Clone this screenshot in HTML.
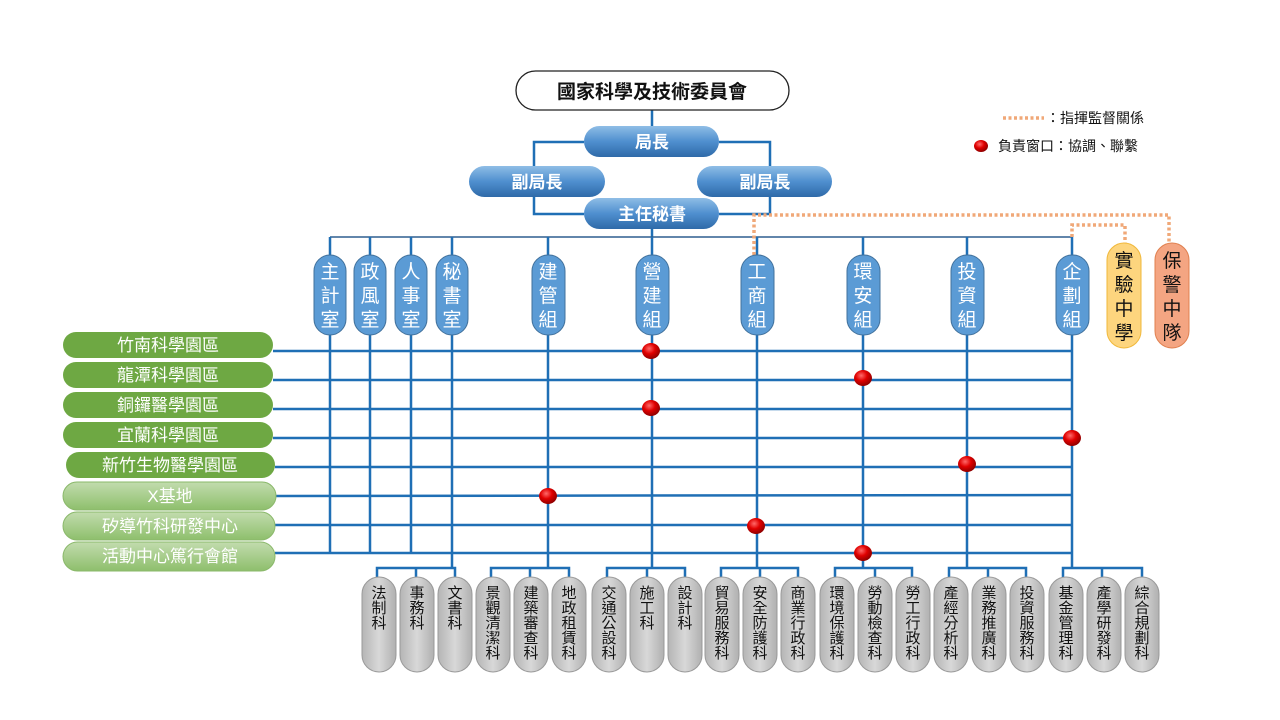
<!DOCTYPE html>
<html><head><meta charset="utf-8"><style>
html,body{margin:0;padding:0;background:#fff;width:1280px;height:720px;overflow:hidden}
svg text{font-family:"Liberation Sans","Noto Sans CJK TC",sans-serif}
</style></head><body>
<svg width="1280" height="720" viewBox="0 0 1280 720" xmlns="http://www.w3.org/2000/svg">
<defs>
<linearGradient id="bg" x1="0" y1="0" x2="0" y2="1"><stop offset="0" stop-color="#8fbde6"/><stop offset="0.5" stop-color="#4f8fcf"/><stop offset="1" stop-color="#2f6aa8"/></linearGradient>
<linearGradient id="gg" x1="0" y1="0" x2="0" y2="1"><stop offset="0" stop-color="#c2dcae"/><stop offset="1" stop-color="#8ebf6c"/></linearGradient>
<linearGradient id="gray" x1="0" y1="0" x2="1" y2="0"><stop offset="0" stop-color="#b5b5b5"/><stop offset="0.5" stop-color="#d8d8d8"/><stop offset="1" stop-color="#b0b0b0"/></linearGradient>
<radialGradient id="rd" cx="0.4" cy="0.35" r="0.65"><stop offset="0" stop-color="#ff6a6a"/><stop offset="0.5" stop-color="#e00000"/><stop offset="1" stop-color="#900000"/></radialGradient>
</defs>

<g stroke="#1f6fb5" stroke-width="2.5" fill="none">
<line x1="652" y1="110" x2="652" y2="130"/>
<polyline points="584,142 534,142 534,214 584,214"/>
<polyline points="719,142 770,142 770,214 719,214"/>
<line x1="652" y1="229" x2="652" y2="237"/>
</g>
<line x1="330" y1="237" x2="1072" y2="237" stroke="#2e5f8f" stroke-width="1.5"/>

<g stroke="#1f6fb5" stroke-width="2.5">
<line x1="330" y1="237" x2="330" y2="553"/>
<line x1="370" y1="237" x2="370" y2="553"/>
<line x1="411" y1="237" x2="411" y2="553"/>
<line x1="452" y1="237" x2="452" y2="569"/>
<line x1="548" y1="237" x2="548" y2="569"/>
<line x1="652" y1="237" x2="652" y2="569"/>
<line x1="757" y1="237" x2="757" y2="569"/>
<line x1="863" y1="237" x2="863" y2="569"/>
<line x1="967" y1="237" x2="967" y2="569"/>
<line x1="1072" y1="237" x2="1072" y2="569"/>
<line x1="273" y1="351" x2="1072" y2="351"/>
<line x1="273" y1="380" x2="1072" y2="380"/>
<line x1="273" y1="409" x2="1072" y2="409"/>
<line x1="273" y1="438" x2="1072" y2="438"/>
<line x1="275" y1="467" x2="1072" y2="467"/>
<line x1="276" y1="496" x2="1072" y2="495"/>
<line x1="275" y1="525" x2="1072" y2="525"/>
<line x1="275" y1="553" x2="1072" y2="553"/>
<g fill="none">
<polyline points="377,577 377,568 455,568 455,577"/><line x1="416" y1="568" x2="416" y2="577"/>
<polyline points="491,577 491,568 569,568 569,577"/><line x1="530" y1="568" x2="530" y2="577"/>
<polyline points="607,577 607,568 685,568 685,577"/><line x1="647" y1="568" x2="647" y2="577"/>
<polyline points="721,577 721,568 798,568 798,577"/><line x1="760" y1="568" x2="760" y2="577"/>
<polyline points="835,577 835,568 912,568 912,577"/><line x1="875" y1="568" x2="875" y2="577"/>
<polyline points="949,577 949,568 1026,568 1026,577"/><line x1="988" y1="568" x2="988" y2="577"/>
<polyline points="1063,577 1063,568 1142,568 1142,577"/><line x1="1102" y1="568" x2="1102" y2="577"/>
</g>
</g>

<g stroke="#f0a878" stroke-width="3.5" stroke-dasharray="3,2.5" fill="none">
<polyline points="754,255 754,215 1169,215 1169,243"/>
<polyline points="1072,237 1072,225 1125,225 1125,243"/>
<line x1="1003" y1="118" x2="1044" y2="118"/>
</g>

<rect x="516" y="71" width="273" height="39" rx="19.5" fill="#fff" stroke="#222" stroke-width="1.3"/>
<text x="652" y="98" font-size="19" font-weight="bold" fill="#111" text-anchor="middle">國家科學及技術委員會</text>

<g font-size="17" font-weight="bold" fill="#fff" text-anchor="middle">
<rect x="584" y="126" width="135" height="31" rx="15.5" fill="url(#bg)"/><text x="652" y="148">局長</text>
<rect x="469" y="166" width="136" height="31" rx="15.5" fill="url(#bg)"/><text x="537" y="188">副局長</text>
<rect x="697" y="166" width="135" height="31" rx="15.5" fill="url(#bg)"/><text x="765" y="188">副局長</text>
<rect x="584" y="198" width="135" height="31" rx="15.5" fill="url(#bg)"/><text x="652" y="220">主任秘書</text>
</g>

<g font-size="19" fill="#fff" text-anchor="middle">
<g><rect x="314" y="255" width="32" height="80" rx="16" fill="#5b9bd5" stroke="#41719c"/><text x="330" y="278">主</text><text x="330" y="302">計</text><text x="330" y="326">室</text></g>
<g><rect x="354" y="255" width="32" height="80" rx="16" fill="#5b9bd5" stroke="#41719c"/><text x="370" y="278">政</text><text x="370" y="302">風</text><text x="370" y="326">室</text></g>
<g><rect x="395" y="255" width="32" height="80" rx="16" fill="#5b9bd5" stroke="#41719c"/><text x="411" y="278">人</text><text x="411" y="302">事</text><text x="411" y="326">室</text></g>
<g><rect x="436" y="255" width="32" height="80" rx="16" fill="#5b9bd5" stroke="#41719c"/><text x="452" y="278">秘</text><text x="452" y="302">書</text><text x="452" y="326">室</text></g>
<g><rect x="532" y="255" width="33" height="80" rx="16" fill="#5b9bd5" stroke="#41719c"/><text x="548" y="278">建</text><text x="548" y="302">管</text><text x="548" y="326">組</text></g>
<g><rect x="636" y="255" width="33" height="80" rx="16" fill="#5b9bd5" stroke="#41719c"/><text x="652" y="278">營</text><text x="652" y="302">建</text><text x="652" y="326">組</text></g>
<g><rect x="741" y="255" width="33" height="80" rx="16" fill="#5b9bd5" stroke="#41719c"/><text x="757" y="278">工</text><text x="757" y="302">商</text><text x="757" y="326">組</text></g>
<g><rect x="847" y="255" width="33" height="80" rx="16" fill="#5b9bd5" stroke="#41719c"/><text x="863" y="278">環</text><text x="863" y="302">安</text><text x="863" y="326">組</text></g>
<g><rect x="951" y="255" width="33" height="80" rx="16" fill="#5b9bd5" stroke="#41719c"/><text x="967" y="278">投</text><text x="967" y="302">資</text><text x="967" y="326">組</text></g>
<g><rect x="1056" y="255" width="33" height="80" rx="16" fill="#5b9bd5" stroke="#41719c"/><text x="1072" y="278">企</text><text x="1072" y="302">劃</text><text x="1072" y="326">組</text></g>
</g>
<g font-size="19" fill="#111" text-anchor="middle">
<rect x="1107" y="243" width="34" height="105" rx="17" fill="#fdd57e" stroke="#f0b83a"/><text x="1124" y="267">實</text><text x="1124" y="291">驗</text><text x="1124" y="315">中</text><text x="1124" y="339">學</text>
<rect x="1155" y="243" width="34" height="105" rx="17" fill="#f4a582" stroke="#e0804f"/><text x="1172" y="267">保</text><text x="1172" y="291">警</text><text x="1172" y="315">中</text><text x="1172" y="339">隊</text>
</g>

<g font-size="17" fill="#fff" text-anchor="middle">
<rect x="63" y="332" width="210" height="26" rx="13" fill="#6ea843"/><text x="168" y="351">竹南科學園區</text>
<rect x="63" y="362" width="210" height="26" rx="13" fill="#6ea843"/><text x="168" y="381">龍潭科學園區</text>
<rect x="63" y="392" width="210" height="26" rx="13" fill="#6ea843"/><text x="168" y="411">銅鑼醫學園區</text>
<rect x="63" y="422" width="210" height="26" rx="13" fill="#6ea843"/><text x="168" y="441">宜蘭科學園區</text>
<rect x="66" y="452" width="209" height="26" rx="13" fill="#6ea843"/><text x="170" y="471">新竹生物醫學園區</text>
<rect x="63" y="482" width="213" height="28" rx="14" fill="url(#gg)" stroke="#8ab86a"/><text x="170" y="502">X基地</text>
<rect x="63" y="512" width="212" height="28" rx="14" fill="url(#gg)" stroke="#8ab86a"/><text x="170" y="532">矽導竹科研發中心</text>
<rect x="63" y="542" width="212" height="29" rx="14.5" fill="url(#gg)" stroke="#8ab86a"/><text x="170" y="562">活動中心篤行會館</text>
</g>

<g fill="url(#rd)">
<ellipse cx="651" cy="351" rx="9" ry="8"/>
<ellipse cx="863" cy="378" rx="9" ry="8"/>
<ellipse cx="651" cy="408" rx="9" ry="8"/>
<ellipse cx="1072" cy="438" rx="9" ry="8"/>
<ellipse cx="967" cy="464" rx="9" ry="8"/>
<ellipse cx="548" cy="496" rx="9" ry="8"/>
<ellipse cx="756" cy="526" rx="9" ry="8"/>
<ellipse cx="863" cy="553" rx="9" ry="8"/>
<ellipse cx="981" cy="146" rx="7" ry="6"/>
</g>

<text x="1046" y="123" font-size="14" fill="#111">：指揮監督關係</text>
<text x="998" y="151" font-size="14" fill="#111">負責窗口：協調、聯繫</text>

<g font-size="15" fill="#111" text-anchor="middle">
<rect x="362" y="577" width="34" height="95" rx="17" fill="url(#gray)" stroke="#999"/>
<rect x="400" y="577" width="34" height="95" rx="17" fill="url(#gray)" stroke="#999"/>
<rect x="438" y="577" width="34" height="95" rx="17" fill="url(#gray)" stroke="#999"/>
<rect x="476" y="577" width="34" height="95" rx="17" fill="url(#gray)" stroke="#999"/>
<rect x="514" y="577" width="34" height="95" rx="17" fill="url(#gray)" stroke="#999"/>
<rect x="552" y="577" width="34" height="95" rx="17" fill="url(#gray)" stroke="#999"/>
<rect x="592" y="577" width="34" height="95" rx="17" fill="url(#gray)" stroke="#999"/>
<rect x="630" y="577" width="34" height="95" rx="17" fill="url(#gray)" stroke="#999"/>
<rect x="668" y="577" width="34" height="95" rx="17" fill="url(#gray)" stroke="#999"/>
<rect x="705" y="577" width="34" height="95" rx="17" fill="url(#gray)" stroke="#999"/>
<rect x="743" y="577" width="34" height="95" rx="17" fill="url(#gray)" stroke="#999"/>
<rect x="781" y="577" width="34" height="95" rx="17" fill="url(#gray)" stroke="#999"/>
<rect x="820" y="577" width="34" height="95" rx="17" fill="url(#gray)" stroke="#999"/>
<rect x="858" y="577" width="34" height="95" rx="17" fill="url(#gray)" stroke="#999"/>
<rect x="896" y="577" width="34" height="95" rx="17" fill="url(#gray)" stroke="#999"/>
<rect x="934" y="577" width="34" height="95" rx="17" fill="url(#gray)" stroke="#999"/>
<rect x="972" y="577" width="34" height="95" rx="17" fill="url(#gray)" stroke="#999"/>
<rect x="1010" y="577" width="34" height="95" rx="17" fill="url(#gray)" stroke="#999"/>
<rect x="1049" y="577" width="34" height="95" rx="17" fill="url(#gray)" stroke="#999"/>
<rect x="1087" y="577" width="34" height="95" rx="17" fill="url(#gray)" stroke="#999"/>
<rect x="1125" y="577" width="34" height="95" rx="17" fill="url(#gray)" stroke="#999"/>
<text x="379" y="598">法</text><text x="379" y="613">制</text><text x="379" y="628">科</text>
<text x="417" y="598">事</text><text x="417" y="613">務</text><text x="417" y="628">科</text>
<text x="455" y="598">文</text><text x="455" y="613">書</text><text x="455" y="628">科</text>
<text x="493" y="598">景</text><text x="493" y="613">觀</text><text x="493" y="628">清</text><text x="493" y="643">潔</text><text x="493" y="658">科</text>
<text x="531" y="598">建</text><text x="531" y="613">築</text><text x="531" y="628">審</text><text x="531" y="643">查</text><text x="531" y="658">科</text>
<text x="569" y="598">地</text><text x="569" y="613">政</text><text x="569" y="628">租</text><text x="569" y="643">賃</text><text x="569" y="658">科</text>
<text x="609" y="598">交</text><text x="609" y="613">通</text><text x="609" y="628">公</text><text x="609" y="643">設</text><text x="609" y="658">科</text>
<text x="647" y="598">施</text><text x="647" y="613">工</text><text x="647" y="628">科</text>
<text x="685" y="598">設</text><text x="685" y="613">計</text><text x="685" y="628">科</text>
<text x="722" y="598">貿</text><text x="722" y="613">易</text><text x="722" y="628">服</text><text x="722" y="643">務</text><text x="722" y="658">科</text>
<text x="760" y="598">安</text><text x="760" y="613">全</text><text x="760" y="628">防</text><text x="760" y="643">護</text><text x="760" y="658">科</text>
<text x="798" y="598">商</text><text x="798" y="613">業</text><text x="798" y="628">行</text><text x="798" y="643">政</text><text x="798" y="658">科</text>
<text x="837" y="598">環</text><text x="837" y="613">境</text><text x="837" y="628">保</text><text x="837" y="643">護</text><text x="837" y="658">科</text>
<text x="875" y="598">勞</text><text x="875" y="613">動</text><text x="875" y="628">檢</text><text x="875" y="643">查</text><text x="875" y="658">科</text>
<text x="913" y="598">勞</text><text x="913" y="613">工</text><text x="913" y="628">行</text><text x="913" y="643">政</text><text x="913" y="658">科</text>
<text x="951" y="598">產</text><text x="951" y="613">經</text><text x="951" y="628">分</text><text x="951" y="643">析</text><text x="951" y="658">科</text>
<text x="989" y="598">業</text><text x="989" y="613">務</text><text x="989" y="628">推</text><text x="989" y="643">廣</text><text x="989" y="658">科</text>
<text x="1027" y="598">投</text><text x="1027" y="613">資</text><text x="1027" y="628">服</text><text x="1027" y="643">務</text><text x="1027" y="658">科</text>
<text x="1066" y="598">基</text><text x="1066" y="613">金</text><text x="1066" y="628">管</text><text x="1066" y="643">理</text><text x="1066" y="658">科</text>
<text x="1104" y="598">產</text><text x="1104" y="613">學</text><text x="1104" y="628">研</text><text x="1104" y="643">發</text><text x="1104" y="658">科</text>
<text x="1142" y="598">綜</text><text x="1142" y="613">合</text><text x="1142" y="628">規</text><text x="1142" y="643">劃</text><text x="1142" y="658">科</text>
</g>
</svg>
</body></html>
